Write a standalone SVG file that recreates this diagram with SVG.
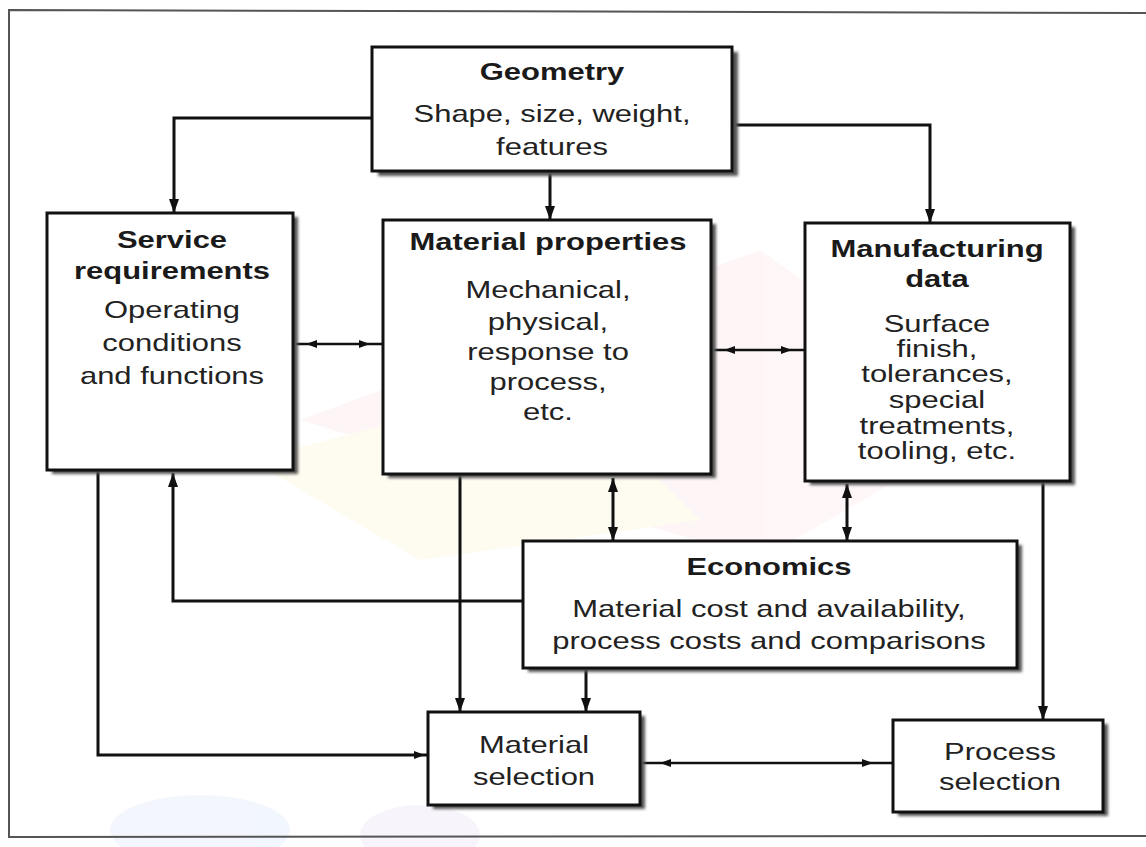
<svg xmlns="http://www.w3.org/2000/svg" width="1146" height="847" viewBox="0 0 1146 847">
  <style>
    .box { fill: #ffffff; stroke: #111; stroke-width: 3; }
    .shadow { fill: #555; filter: url(#blur); }
    .t { font-family: "Liberation Sans", Arial, sans-serif; font-size: 24px; fill: #222; text-anchor: middle; }
    .b { font-weight: bold; fill: #1a1a1a; }
    .c { fill: none; stroke: #111; stroke-width: 3; }
    .ch { fill: none; stroke: #111; stroke-width: 2.5; }
    .frame { fill: none; stroke: #555; stroke-width: 2; }
  </style>
  <defs>
    <filter id="blur" x="-5%" y="-5%" width="110%" height="110%">
      <feGaussianBlur stdDeviation="1.4"/>
    </filter>
    <marker id="big" markerUnits="userSpaceOnUse" markerWidth="16" markerHeight="12" refX="14" refY="5" orient="auto-start-reverse">
      <path d="M0,0 L14,5 L0,10 z" fill="#111"/>
    </marker>
    <marker id="sm" markerUnits="userSpaceOnUse" markerWidth="26" markerHeight="10" refX="24" refY="4" orient="auto-start-reverse">
      <path d="M0,0 L11,4 L0,8 z" fill="#111"/>
    </marker>
    <marker id="sm2" markerUnits="userSpaceOnUse" markerWidth="34" markerHeight="10" refX="31" refY="4" orient="auto-start-reverse">
      <path d="M0,0 L11,4 L0,8 z" fill="#111"/>
    </marker>
    <marker id="smend" markerUnits="userSpaceOnUse" markerWidth="16" markerHeight="10" refX="14" refY="4" orient="auto">
      <path d="M0,0 L11,4 L0,8 z" fill="#111"/>
    </marker>
  </defs>

  <rect width="1146" height="847" fill="#ffffff"/>
  <!-- faint background tints -->
  <g opacity="0.22">
    <polygon points="300,420 760,250 1000,420 760,560" fill="#fbd5da"/>
    <polygon points="250,460 560,380 700,520 420,560" fill="#fbeec0"/>
    <ellipse cx="200" cy="830" rx="90" ry="35" fill="#c9dbf7"/>
    <ellipse cx="420" cy="835" rx="60" ry="30" fill="#ddd0f5"/>
  </g>

  <path class="frame" d="M1146,13 L9,10 L9,837 L1146,836"/>

  <g id="connectors">
    <path class="c" d="M372,118 L174,118 L174,213" marker-end="url(#big)"/>
    <path class="c" d="M550,172 L550,220" marker-end="url(#big)"/>
    <path class="c" d="M732,125 L930,125 L930,223" marker-end="url(#big)"/>
    <path class="ch" d="M293,344 L383,344" marker-start="url(#sm)" marker-end="url(#sm)"/>
    <path class="ch" d="M711,350 L805,350" marker-start="url(#sm)" marker-end="url(#sm)"/>
    <path class="c" d="M613,478 L613,541" marker-start="url(#big)" marker-end="url(#big)"/>
    <path class="c" d="M847,484 L847,541" marker-start="url(#big)" marker-end="url(#big)"/>
    <path class="c" d="M523,601 L173,601 L173,473" marker-end="url(#big)"/>
    <path class="c" d="M98,470 L98,755 L428,755" marker-end="url(#smend)"/>
    <path class="c" d="M460,475 L460,712" marker-end="url(#big)"/>
    <path class="c" d="M586,668 L586,712" marker-end="url(#big)"/>
    <path class="ch" d="M640,763 L893,763" marker-start="url(#sm2)" marker-end="url(#sm2)"/>
    <path class="c" d="M1043,481 L1043,720" marker-end="url(#big)"/>
  </g>

  <g id="geometry">
    <rect class="shadow" x="378" y="52" width="360" height="124"/>
    <rect class="box" x="372" y="47" width="360" height="124"/>
    <g transform="translate(552 0) scale(1.29 1)">
      <text class="t b" x="0" y="80">Geometry</text>
      <text class="t" x="0" y="122">Shape, size, weight,</text>
      <text class="t" x="0" y="155">features</text>
    </g>
  </g>

  <g id="service">
    <rect class="shadow" x="52" y="217" width="246" height="257"/>
    <rect class="box" x="47" y="213" width="246" height="257"/>
    <g transform="translate(172 0) scale(1.29 1)">
      <text class="t b" x="0" y="248">Service</text>
      <text class="t b" x="0" y="279">requirements</text>
      <text class="t" x="0" y="318">Operating</text>
      <text class="t" x="0" y="351">conditions</text>
      <text class="t" x="0" y="384">and functions</text>
    </g>
  </g>

  <g id="material-properties">
    <rect class="shadow" x="388" y="224" width="328" height="254"/>
    <rect class="box" x="383" y="220" width="328" height="254" fill="#fffdf6"/>
    <g transform="translate(548 0) scale(1.29 1)">
      <text class="t b" x="0" y="250">Material properties</text>
      <text class="t" x="0" y="298">Mechanical,</text>
      <text class="t" x="0" y="330">physical,</text>
      <text class="t" x="0" y="360">response to</text>
      <text class="t" x="0" y="390">process,</text>
      <text class="t" x="0" y="420">etc.</text>
    </g>
  </g>

  <g id="manufacturing-data">
    <rect class="shadow" x="810" y="227" width="265" height="258"/>
    <rect class="box" x="805" y="223" width="265" height="258" fill="#fdf9f8"/>
    <g transform="translate(937 0) scale(1.29 1)">
      <text class="t b" x="0" y="257">Manufacturing</text>
      <text class="t b" x="0" y="287">data</text>
      <text class="t" x="0" y="332">Surface</text>
      <text class="t" x="0" y="357">finish,</text>
      <text class="t" x="0" y="382">tolerances,</text>
      <text class="t" x="0" y="408">special</text>
      <text class="t" x="0" y="434">treatments,</text>
      <text class="t" x="0" y="459">tooling, etc.</text>
    </g>
  </g>

  <g id="economics">
    <rect class="shadow" x="528" y="545" width="494" height="127"/>
    <rect class="box" x="523" y="541" width="494" height="127" fill="#fcf1f1"/>
    <g transform="translate(769 0) scale(1.29 1)">
      <text class="t b" x="0" y="575">Economics</text>
      <text class="t" x="0" y="617">Material cost and availability,</text>
      <text class="t" x="0" y="649">process costs and comparisons</text>
    </g>
  </g>

  <g id="material-selection">
    <rect class="shadow" x="433" y="716" width="212" height="93"/>
    <rect class="box" x="428" y="712" width="212" height="93"/>
    <g transform="translate(534 0) scale(1.29 1)">
      <text class="t" x="0" y="753">Material</text>
      <text class="t" x="0" y="785">selection</text>
    </g>
  </g>

  <g id="process-selection">
    <rect class="shadow" x="898" y="724" width="210" height="92"/>
    <rect class="box" x="893" y="720" width="210" height="92"/>
    <g transform="translate(1000 0) scale(1.29 1)">
      <text class="t" x="0" y="760">Process</text>
      <text class="t" x="0" y="790">selection</text>
    </g>
  </g>
</svg>
